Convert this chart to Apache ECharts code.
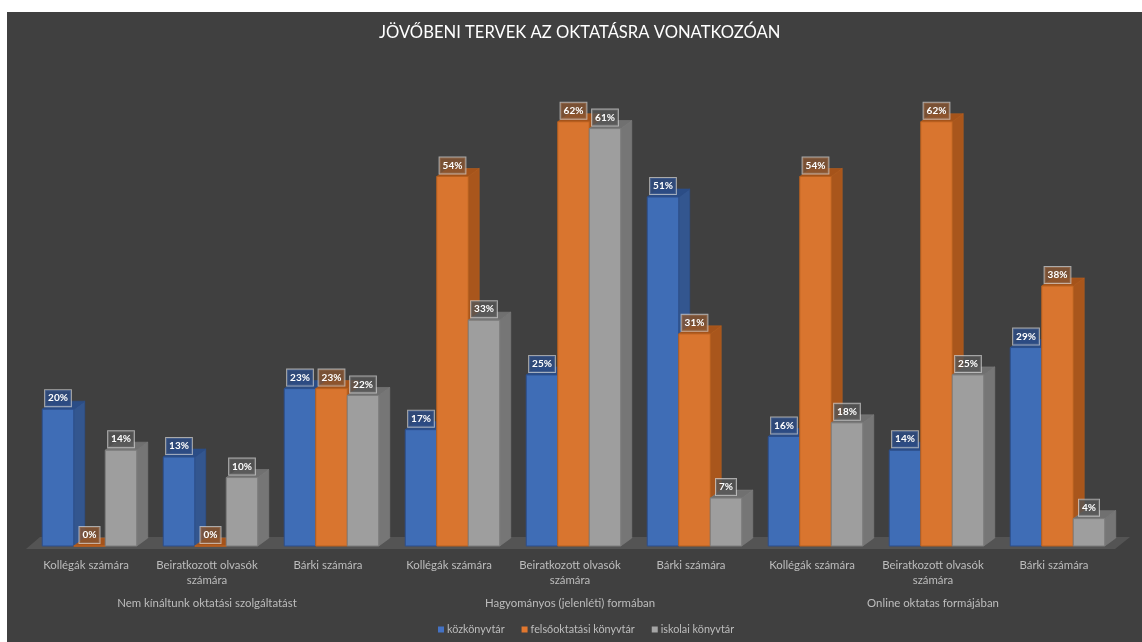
<!DOCTYPE html>
<html><head><meta charset="utf-8">
<style>html,body{margin:0;padding:0;background:#fff}#c{position:absolute;left:7px;top:12px;width:1135px;height:630px}</style>
<script src="https://cdn.jsdelivr.net/npm/echarts@6/dist/echarts.min.js"></script>
</head><body><div id="c"></div>
<script>
const titleText = 'JÖVŐBENI TERVEK AZ OKTATÁSRA VONATKOZÓAN';
const categories = ['Kollégák számára','Beiratkozott olvasók\nszámára','Bárki számára','Kollégák számára','Beiratkozott olvasók\nszámára','Bárki számára','Kollégák számára','Beiratkozott olvasók\nszámára','Bárki számára'];
const groups = ['Nem kínáltunk oktatási szolgáltatást','Hagyományos (jelenléti) formában','Online oktatas formájában'];
const kozkonyvtar = [20,13,23,17,25,51,16,14,29];
const felsooktatasi = [0,0,23,54,62,31,54,62,38];
const iskolai = [14,10,22,33,61,7,18,25,4];
const names = ['közkönyvtár','felsőoktatási könyvtár','iskolai könyvtár'];
const font = 'Lato, "Open Sans", sans-serif';
const DX = 11, DY = 8, BARW = 31.5;
const palette = [
 {front:'#3f6db6', edge:'#2c4f8c', side:'#33568f', top:'#2b4d86', label:'rgba(45,75,130,0.85)'},
 {front:'#d9752f', edge:'#b9601f', side:'#a9561c', top:'#a5531a', label:'rgba(135,85,50,0.8)'},
 {front:'#9e9e9e', edge:'#7d7d7d', side:'#767676', top:'#707070', label:'rgba(85,85,85,0.8)'}
];
function barSeries(idx, values){
  const p = palette[idx];
  return {
    type:'custom', name:names[idx], z:3+idx,
    itemStyle:{color:idx===0?'#4472c4':idx===1?'#e2772e':'#a5a5a5'},
    data: values.map((v,i)=>[i,v]),
    encode:{x:0,y:1},
    renderItem(params, api){
      const top = api.coord([api.value(0), api.value(1)]);
      const base = api.coord([api.value(0), 0]);
      const x0 = top[0] + (idx-1.5)*BARW, x1 = x0 + BARW, y0 = top[1], y1 = base[1];
      return {type:'group', children:[
        {type:'polygon', shape:{points:[[x1,y0],[x1+DX,y0-DY],[x1+DX,y1-DY],[x1,y1]]}, style:{fill:p.side, stroke:p.edge, lineWidth:.6}},
        {type:'polygon', shape:{points:[[x0,y0],[x0+DX,y0-DY],[x1+DX,y0-DY],[x1,y0]]}, style:{fill:p.top, stroke:p.edge, lineWidth:.6}},
        {type:'rect', shape:{x:x0,y:y0,width:BARW,height:y1-y0}, style:{fill:p.front, stroke:p.edge, lineWidth:1}},
      ]};
    }
  };
}
function labelSeries(idx, values){
  const p = palette[idx];
  return {
    type:'custom', z:10, silent:true, legendHoverLink:false,
    data: values.map((v,i)=>[i,v]), encode:{x:0,y:1},
    renderItem(params, api){
      const top = api.coord([api.value(0), api.value(1)]);
      const cx = top[0] + (idx-1)*BARW;
      return {type:'text', z2:100, x:cx, y:top[1]-11, style:{
        text:api.value(1)+'%', fill:'#fff', font:'bold 10px '+font, align:'center', verticalAlign:'middle',
        backgroundColor:p.label, borderColor:'rgba(215,215,215,0.7)', borderWidth:1, padding:[3,3,3,3]
      }};
    }
  };
}
const floorSeries = {
  type:'custom', z:1, silent:true, data:[[0,0]], encode:{x:0,y:1},
  renderItem(params){
    const c = params.coordSys, b = c.y + c.height;
    return {type:'polygon', shape:{points:[[c.x-3,b+3],[c.x+11,b-9],[c.x+c.width+12,b-9],[c.x+c.width-3,b+3]]}, style:{fill:'#545454'}};
  }
};
const chart = echarts.init(document.getElementById('c'));
chart.setOption({
  animation:false,
  backgroundColor:'#404040',
  title:{text:titleText,left:367,top:7,textStyle:{color:'#fff',fontSize:16.6,fontWeight:'normal',fontFamily:font}},
  legend:{data:names,bottom:2,left:426,itemWidth:6,itemHeight:6,itemGap:17,icon:'rect',textStyle:{color:'#bdbdbd',fontSize:10.8,fontFamily:font,padding:[0,0,0,-2]}},
  grid:{left:22,right:24,top:55,bottom:96,containLabel:false},
  xAxis:[
   {type:'category',data:categories,position:'bottom',axisLine:{show:false},axisTick:{show:false},axisLabel:{interval:0,color:'#bdbdbd',fontSize:11.4,fontFamily:font,margin:12,lineHeight:15,padding:[0,7,0,0]}},
   {type:'category',data:groups,position:'bottom',offset:44,axisLine:{show:false},axisTick:{show:false},axisLabel:{interval:0,color:'#bdbdbd',fontSize:11.4,fontFamily:font,padding:[0,7,0,0]}}
  ],
  yAxis:{type:'value',min:0,max:70,show:false},
  series:[floorSeries,barSeries(0,kozkonyvtar),barSeries(1,felsooktatasi),barSeries(2,iskolai),labelSeries(0,kozkonyvtar),labelSeries(1,felsooktatasi),labelSeries(2,iskolai)]
});
</script></body></html>
